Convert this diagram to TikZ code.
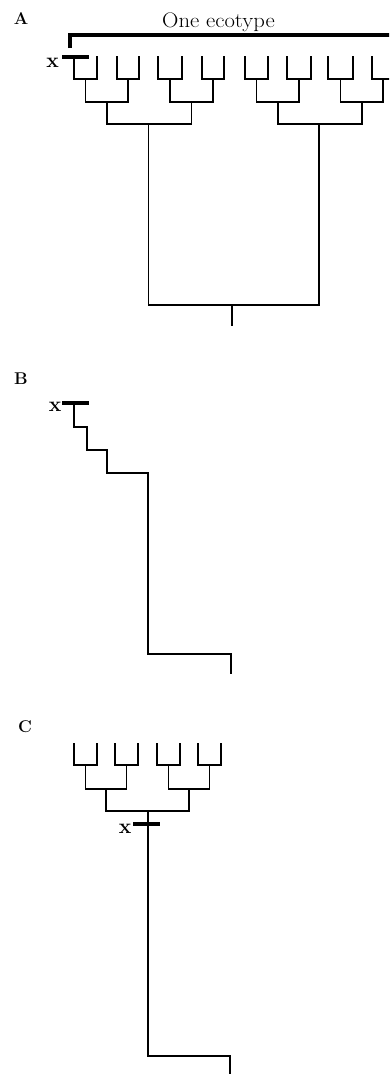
\documentclass[tikz,border=0pt]{standalone}
\usepackage{fontspec}
\begin{document}
\begin{tikzpicture}[x=1pt,y=-1pt,
  branch/.style={line width=1.8pt, line join=miter},
  xbar/.style={line width=3.4pt},
  bracket/.style={line width=4pt, line join=miter},
  panel/.style={font=\fontsize{17}{20}\selectfont\bfseries, anchor=base, inner sep=0pt},
  xlab/.style={font=\fontsize{21}{24}\selectfont\bfseries, anchor=base, inner sep=0pt},
  ecolab/.style={font=\fontsize{21}{24}\selectfont, anchor=base, inner sep=0pt}]
\useasboundingbox (0,0) rectangle (389,1074);
\clip (0,0) rectangle (389,1074);

% ---------------- Panel A ----------------
\node[panel] (labA) at (21,24) {A};
\node[ecolab] (eco) at (218.5,27) {\scalebox{1.08}[1]{One ecotype}};
\coordinate (brL) at (69.5,48);
\coordinate (brC) at (69.5,35);
\coordinate (brR) at (395,35);
\draw[bracket] (brL) -- (brC) -- (brR);

% leaves
\foreach \n/\x in {1/74,2/97,3/117,4/139,5/158,6/182,7/202,8/224,9/245,10/268,11/287,12/311,13/328,14/353,15/372,16/394}
  \coordinate (a\n) at (\x,56);
\coordinate (a1) at (74,57);
% cherries
\foreach \n/\x in {1/85.5,2/128,3/170,4/213,5/256.5,6/299,7/340.5,8/383}
  \coordinate (ac\n) at (\x,79);
\draw[branch] (a1) |- (ac1) -| (a2);
\draw[branch] (a3) |- (ac2) -| (a4);
\draw[branch] (a5) |- (ac3) -| (a6);
\draw[branch] (a7) |- (ac4) -| (a8);
\draw[branch] (a9) |- (ac5) -| (a10);
\draw[branch] (a11) |- (ac6) -| (a12);
\draw[branch] (a13) |- (ac7) -| (a14);
\draw[branch] (a15) |- (ac8) -| (a16);
% level 2
\coordinate (an1) at (106.75,102);
\coordinate (an2) at (191.5,102);
\coordinate (an3) at (277.75,102);
\coordinate (an4) at (361.75,102);
\draw[branch] (ac1) |- (an1) -| (ac2);
\draw[branch] (ac3) |- (an2) -| (ac4);
\draw[branch] (ac5) |- (an3) -| (ac6);
\draw[branch] (ac7) |- (an4) -| (ac8);
% level 3
\coordinate (ar1) at (148.5,124);
\coordinate (ar2) at (319,124);
\draw[branch] (an1) |- (ar1) -| (an2);
\draw[branch] (an3) |- (ar2) -| (an4);
% root
\coordinate (aroot) at (232,305);
\coordinate (abase) at (232,326);
\draw[branch] (ar1) |- (aroot) -| (ar2);
\draw[branch] (aroot) -- (abase);
% x mark
\coordinate (axl) at (62,57);
\coordinate (axr) at (89,57);
\draw[xbar] (axl) -- (axr);
\node[xlab] (xA) at (52.5,67) {x};

% ---------------- Panel B ----------------
\node[panel] (labB) at (21,384) {B};
\coordinate (b0) at (74,403);
\coordinate (b1) at (87,427);
\coordinate (b2) at (107,450);
\coordinate (b3) at (148,473);
\coordinate (b4) at (231,654);
\coordinate (b5) at (231,674);
\draw[branch] (b0) |- (b1) |- (b2) |- (b3) |- (b4) -- (b5);
\coordinate (bxl) at (62,403);
\coordinate (bxr) at (89,403);
\draw[xbar] (bxl) -- (bxr);
\node[xlab] (xB) at (55,411) {x};

% ---------------- Panel C ----------------
\node[panel] (labC) at (25,732) {C};
\foreach \n/\x in {1/74,2/97,3/115,4/138,5/157,6/180,7/198,8/221}
  \coordinate (c\n) at (\x,743);
\foreach \n/\x in {1/85.5,2/126.5,3/168.5,4/209.5}
  \coordinate (cc\n) at (\x,765);
\draw[branch] (c1) |- (cc1) -| (c2);
\draw[branch] (c3) |- (cc2) -| (c4);
\draw[branch] (c5) |- (cc3) -| (c6);
\draw[branch] (c7) |- (cc4) -| (c8);
\coordinate (cn1) at (106,789);
\coordinate (cn2) at (189,789);
\draw[branch] (cc1) |- (cn1) -| (cc2);
\draw[branch] (cc3) |- (cn2) -| (cc4);
\coordinate (cr) at (148,811);
\draw[branch] (cn1) |- (cr) -| (cn2);
\coordinate (croot) at (230,1056);
\coordinate (cbase) at (230,1080);
\draw[branch] (cr) |- (croot) -- (cbase);
\coordinate (cxl) at (133,824);
\coordinate (cxr) at (160,824);
\draw[xbar] (cxl) -- (cxr);
\node[xlab] (xC) at (125,833) {x};
\end{tikzpicture}
\end{document}
